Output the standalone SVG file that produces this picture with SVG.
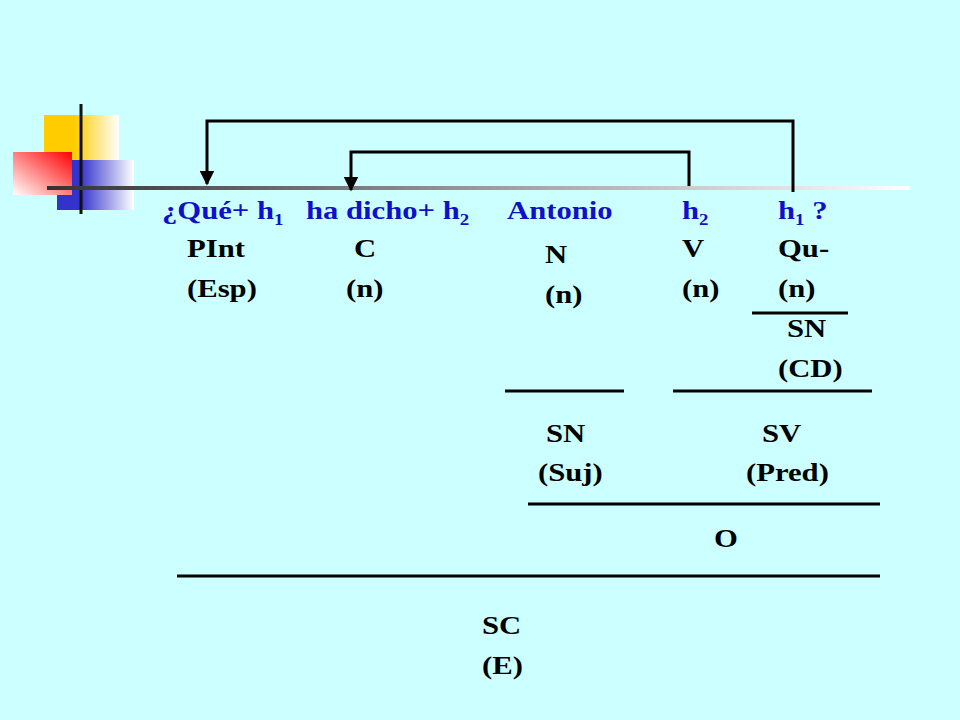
<svg xmlns="http://www.w3.org/2000/svg" width="960" height="720" viewBox="0 0 960 720">
<defs>
<linearGradient id="gy" x1="0" y1="0" x2="1" y2="0"><stop offset="0.4" stop-color="#FFCC00"/><stop offset="1" stop-color="#FFFFFF"/></linearGradient>
<linearGradient id="gr" x1="1" y1="0" x2="0" y2="1"><stop offset="0" stop-color="#FF0000"/><stop offset="1" stop-color="#FFFFFF"/></linearGradient>
<linearGradient id="gb" x1="0" y1="0" x2="1" y2="0"><stop offset="0.3" stop-color="#3333CC"/><stop offset="1" stop-color="#FFFFFF"/></linearGradient>
<linearGradient id="gl" x1="0" y1="0" x2="1" y2="0"><stop offset="0" stop-color="#333333"/><stop offset="1" stop-color="#FFFFFF"/></linearGradient>
<marker id="ah" viewBox="0 0 10 10" refX="9" refY="5" markerWidth="5" markerHeight="5" orient="auto"><path d="M0,0 L10,5 L0,10 z" fill="#000"/></marker>
<style>
text{font-family:"Liberation Serif","Times New Roman",serif;font-weight:bold;font-size:26px;fill:#000;transform-box:fill-box}
.s{transform:scale(1.18,1)}
.b{fill:#1010CC}
.ln{stroke:#000;stroke-width:3;fill:none}
</style>
</defs>
<rect width="960" height="720" fill="#CCFFFF"/>
<g id="decor">
<rect x="44" y="115" width="75" height="45" fill="url(#gy)"/>
<rect x="57" y="160" width="77" height="50" fill="url(#gb)"/>
<rect x="13" y="152" width="59" height="43" fill="url(#gr)"/>
<line x1="81" y1="104" x2="81" y2="214" stroke="#111" stroke-width="3"/>
<rect x="47" y="186" width="863" height="4" fill="url(#gl)"/>
</g>
<g id="connectors">
<path class="ln" d="M793,192 V121 H207 V184" marker-end="url(#ah)"/>
<path class="ln" d="M689,186 V152 H351 V190" marker-end="url(#ah)"/>
<line class="ln" x1="752" y1="313" x2="848" y2="313"/>
<line class="ln" x1="505" y1="391" x2="624" y2="391"/>
<line class="ln" x1="673" y1="391" x2="872" y2="391"/>
<line class="ln" x1="528" y1="504" x2="880" y2="504"/>
<line class="ln" x1="177" y1="576" x2="880" y2="576"/>
</g>
<g id="n1"><text x="162" y="219" class="b s">¿Qué+ h<tspan font-size="16" dy="6">1</tspan></text><text class="s" x="187" y="257">PInt</text><text class="s" x="187" y="297">(Esp)</text></g>
<g id="n2"><text x="306" y="219" class="b s">ha dicho+ h<tspan font-size="16" dy="6">2</tspan></text><text class="s" x="354" y="257">C</text><text class="s" x="346" y="297">(n)</text></g>
<g id="n3"><text x="507" y="219" class="b s">Antonio</text><text class="s" x="545" y="263">N</text><text class="s" x="545" y="303">(n)</text></g>
<g id="n4"><text x="682" y="219" class="b s">h<tspan font-size="16" dy="6">2</tspan></text><text class="s" x="682" y="257">V</text><text class="s" x="682" y="297">(n)</text></g>
<g id="n5"><text x="778" y="219" class="b s">h<tspan font-size="16" dy="6">1</tspan><tspan dy="-6"> ?</tspan></text><text class="s" x="778" y="257">Qu-</text><text class="s" x="778" y="297">(n)</text></g>
<g id="sncd"><text class="s" x="787" y="337">SN</text><text class="s" x="778" y="377">(CD)</text></g>
<g id="snsuj"><text class="s" x="546" y="442">SN</text><text class="s" x="538" y="481">(Suj)</text></g>
<g id="sv"><text class="s" x="762" y="442">SV</text><text class="s" x="746" y="481">(Pred)</text></g>
<g id="o"><text class="s" x="714" y="547">O</text></g>
<g id="sc"><text class="s" x="482" y="634">SC</text><text class="s" x="482" y="674">(E)</text></g>
</svg>
